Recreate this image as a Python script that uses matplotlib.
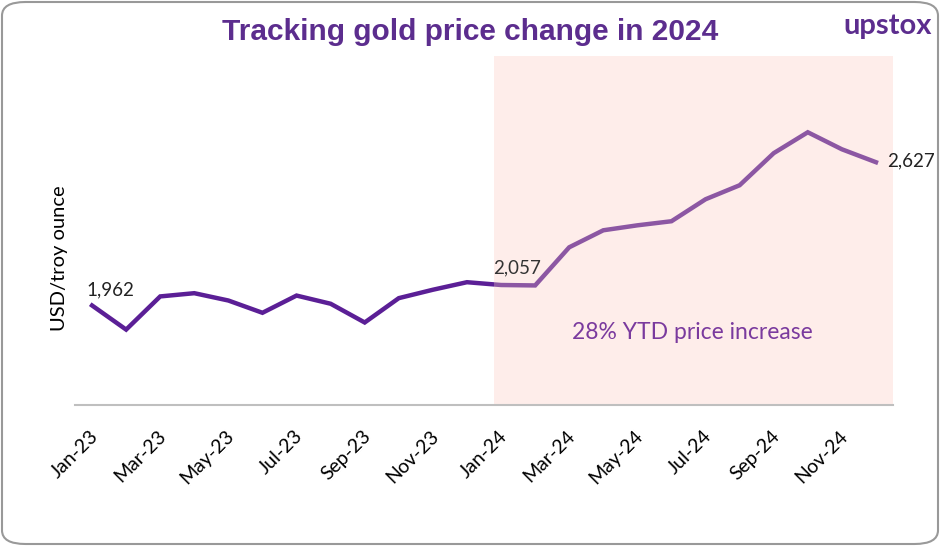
import matplotlib.pyplot as plt
from matplotlib.patches import Rectangle, FancyBboxPatch
from matplotlib.transforms import ScaledTranslation

months = ["Jan-23", "Feb-23", "Mar-23", "Apr-23", "May-23", "Jun-23",
          "Jul-23", "Aug-23", "Sep-23", "Oct-23", "Nov-23", "Dec-23",
          "Jan-24", "Feb-24", "Mar-24", "Apr-24", "May-24", "Jun-24",
          "Jul-24", "Aug-24", "Sep-24", "Oct-24", "Nov-24", "Dec-24"]
price = [1962, 1850, 2004, 2019, 1985, 1928,
         2008, 1970, 1883, 1996, 2035, 2070,
         2057, 2055, 2232, 2311, 2334, 2353,
         2455, 2520, 2669, 2766, 2687, 2627]

dark = '#5B1F96'
light = '#8C57A3'
shade = '#FEEDEA'

fig = plt.figure(figsize=(9.4, 5.46), dpi=100)
ax = fig.add_axes([75 / 940, 1 - 405 / 546, (893 - 75) / 940, (405 - 56) / 546])

x = list(range(len(months)))
ax.set_xlim(-0.5, 23.5)
ax.set_ylim(1500, 3120)

# shaded 2024 area
split = 11.78
shade_rect = Rectangle((split, 1500), 23.5 - split, 1620, facecolor=shade,
                       edgecolor='none', zorder=1)
ax.add_patch(shade_rect)

# line drawn twice, clipped to each side of the split
clip_left = Rectangle((-0.5, 1500), split + 0.5, 1620, transform=ax.transData)
clip_right = Rectangle((split, 1500), 23.5 - split, 1620, transform=ax.transData)
l1, = ax.plot(x, price, color=dark, lw=3.2, zorder=3, solid_joinstyle='miter')
l1.set_clip_path(clip_left)
l2, = ax.plot(x, price, color=light, lw=3.2, zorder=3, solid_joinstyle='miter')
l2.set_clip_path(clip_right)

# value labels
ax.annotate("1,962", (0, price[0]), xytext=(-4, 5), textcoords='offset points',
            fontsize=13.5, family='Lato', color='#222222', ha='left', va='bottom')
ax.annotate("2,057", (12, price[12]), xytext=(-6, 6), textcoords='offset points',
            fontsize=13.5, family='Lato', color='#333333', ha='left', va='bottom')
ax.annotate("2,627", (23, price[23]), xytext=(8, 1), textcoords='offset points',
            fontsize=13.5, family='Lato', color='#222222', ha='left', va='center')
ax.text(17.6, 1836, "28% YTD price increase", fontsize=16.5, family='Lato',
        color='#7A3A9E', ha='center', va='center', zorder=4)

for s in ['top', 'right', 'left']:
    ax.spines[s].set_visible(False)
ax.spines['bottom'].set_color('#BFBFBF')
ax.spines['bottom'].set_linewidth(1.5)
ax.spines['bottom'].set_zorder(5)

ax.set_yticks([])
ax.set_xticks(x[::2])
ax.set_xticklabels(months[::2], rotation=45, ha='right', fontsize=14, family='Lato')
ax.tick_params(axis='x', length=0, pad=16)
# nudge the slanted labels so they end right at their month
shift = ScaledTranslation(9 / 100, 0, fig.dpi_scale_trans)
for lbl in ax.get_xticklabels():
    lbl.set_transform(lbl.get_transform() + shift)

fig.text(60 / 940, 1 - 258 / 546, "USD/troy ounce", rotation=90, fontsize=14.5,
         family='Lato', ha='center', va='center')

fig.text(470 / 940, 1 - 32 / 546, "Tracking gold price change in 2024",
         fontsize=21.5, fontweight='bold', color='#5C2D8E',
         family='Liberation Sans', ha='center', va='center')
fig.text(888 / 940, 1 - 26 / 546, "upstox", fontsize=21, fontweight='bold',
         color='#5C2D8E', family='Lato', ha='center', va='center')

# rounded frame
frame = FancyBboxPatch((2 / 940, 2 / 546), 936 / 940, 542 / 546,
                       boxstyle="round,pad=0,rounding_size=0.025",
                       transform=fig.transFigure, facecolor='none',
                       edgecolor='#999999', lw=1.5)
fig.patches.append(frame)

fig.savefig("out.png", dpi=100)
